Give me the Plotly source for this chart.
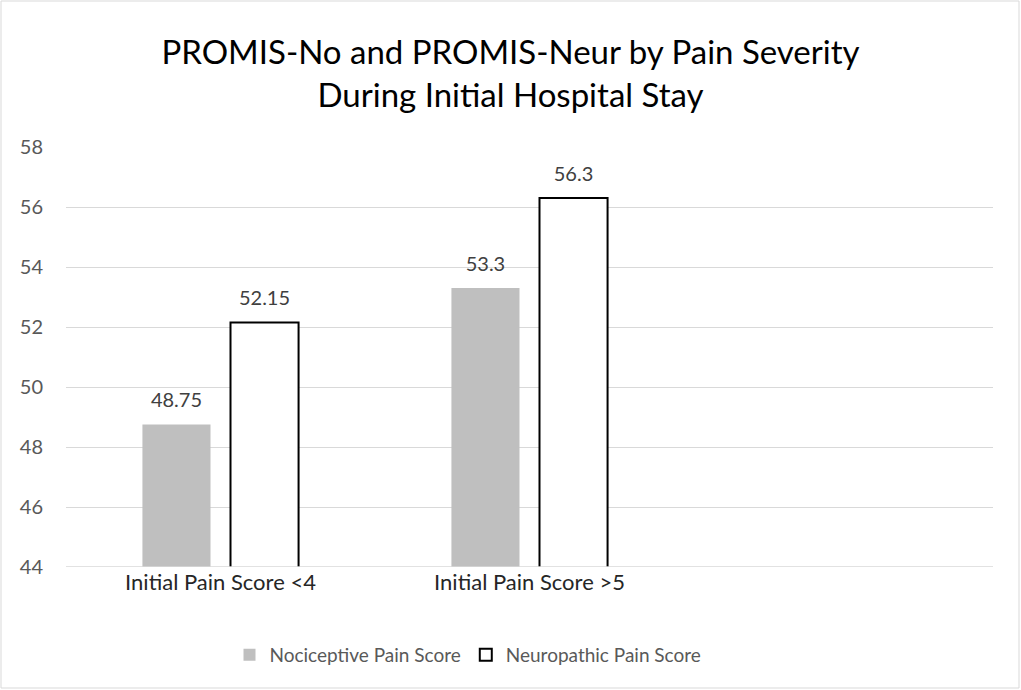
import plotly.graph_objects as go

categories = ["Initial Pain Score <4", "Initial Pain Score >5"]
nociceptive = [48.75, 53.3]
neuropathic = [52.15, 56.3]
noci_labels = ["48.75", "53.3"]
neur_labels = ["52.15", "56.3"]
y_ticks = [44, 46, 48, 50, 52, 54, 56, 58]

FONT = "Lato, Open Sans, sans-serif"
W, H = 1021, 690
L, R, T, B = 66, 28, 147, 123
pw, ph = W - L - R, H - T - B

fig = go.Figure()
fig.add_trace(go.Bar(
    name="Nociceptive Pain Score", x=categories, y=nociceptive,
    offsetgroup="a", marker=dict(color="#BFBFBF", line=dict(width=0)),
))
fig.add_trace(go.Bar(
    name="Neuropathic Pain Score", x=categories, y=neuropathic,
    offsetgroup="b", marker=dict(color="#FFFFFF", line=dict(width=2, color="#000000")),
))
# data labels
for vals, labs, grp in [(nociceptive, noci_labels, "a"), (neuropathic, neur_labels, "b")]:
    fig.add_trace(go.Scatter(
        x=categories, y=vals, text=labs, mode="markers+text", offsetgroup=grp,
        marker=dict(size=18, opacity=0), textposition="top center",
        textfont=dict(size=20, color="#404040", family=FONT),
        showlegend=False, hoverinfo="skip", cliponaxis=False,
    ))

fig.update_layout(
    width=W, height=H,
    margin=dict(l=L, r=R, t=T, b=B),
    paper_bgcolor="white", plot_bgcolor="white",
    font=dict(family=FONT, color="#595959", size=16),
    title=dict(
        text="PROMIS-No and PROMIS-Neur by Pain Severity<br>During Initial Hospital Stay",
        x=0.5, xanchor="center", y=1 - 64 / H, yanchor="middle",
        font=dict(size=33, color="#000000", family=FONT),
    ),
    barmode="group", bargap=0.43, bargroupgap=0.227,
    scattermode="group", scattergap=0.43,
    showlegend=True,
    legend=dict(orientation="h", x=(468 - L) / pw, xanchor="center", y=-(655 - 567) / ph, yanchor="middle",
                font=dict(size=19, color="#595959", family=FONT), itemwidth=30,
                traceorder="normal"),
    xaxis=dict(type="category", range=[-0.5, 2.5], showgrid=False, showline=False,
               ticks="", tickfont=dict(size=22, color="#262626", family=FONT), ticklabelstandoff=0),
    yaxis=dict(range=[44, 58], tickvals=y_ticks, showgrid=True, gridcolor="#D9D9D9",
               gridwidth=1, zeroline=False, showline=False, ticks="",
               tickfont=dict(size=20, color="#595959", family=FONT), ticklabelstandoff=22),
)
fig.add_shape(type="line", xref="paper", yref="y", x0=0, x1=1, y0=44, y1=44,
              line=dict(color="#D9D9D9", width=1.5))
fig.add_shape(type="rect", xref="paper", yref="paper",
              x0=(1 - L) / pw, x1=(W - 2 - L) / pw,
              y0=(T + ph - (H - 2)) / ph, y1=(T + ph - 1) / ph,
              line=dict(color="#D9D9D9", width=1), layer="below")

fig.write_html("out.html")
